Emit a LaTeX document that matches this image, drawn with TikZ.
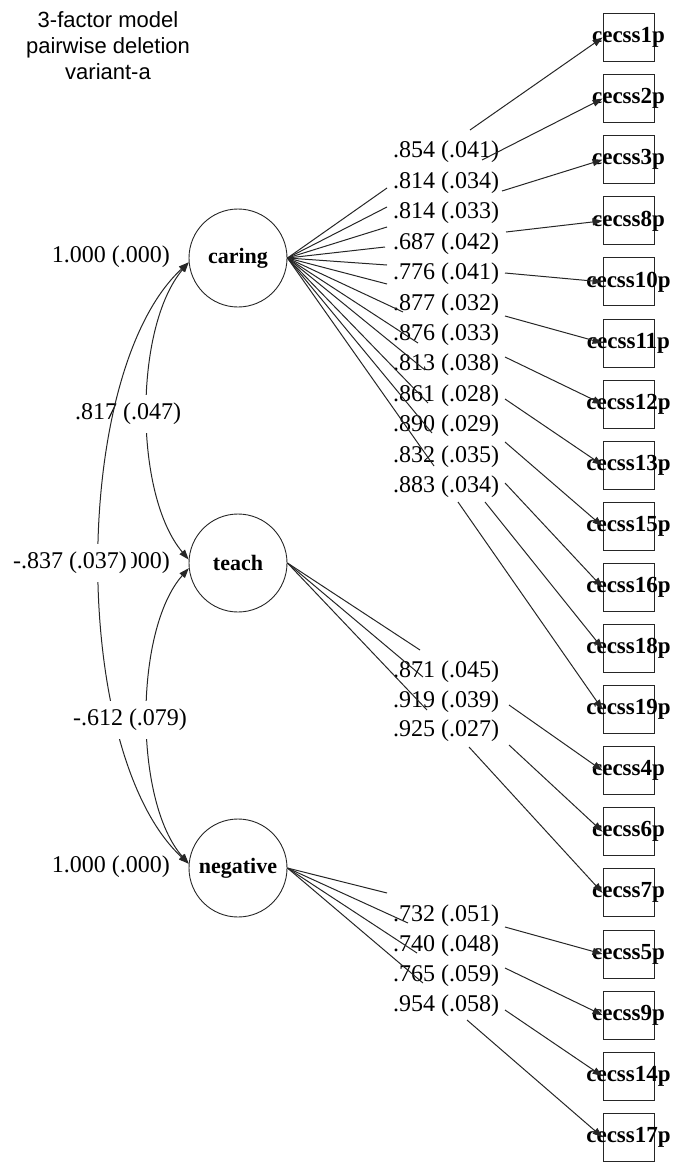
\documentclass[tikz,border=0pt]{standalone}
\usepackage{fontspec}
\setmainfont{Liberation Serif}
\newfontfamily\titlefont{Liberation Sans}
\usetikzlibrary{arrows.meta,calc}
\tikzset{
	latent/.style={draw=black!85, circle, minimum size=98pt, inner sep=0pt, line width=0.9pt,
			font=\fontsize{22}{24}\selectfont\bfseries},
	manifest/.style={draw=black!85, rectangle, minimum width=51pt, minimum height=48pt, inner sep=0pt, line width=0.9pt},
	itemname/.style={inner sep=0pt, font=\fontsize{23}{24}\selectfont\bfseries},
	est/.style={inner sep=0pt, font=\fontsize{24}{26}\selectfont},
	covest/.style={est, fill=white, inner xsep=4pt, inner ysep=8pt},
	link/.style={draw=black!85, line width=1pt},
	loadarrow/.style={link, -{Triangle[length=10pt,width=7pt]}},
	covarrow/.style={link, {Triangle[length=10pt,width=7pt]}-{Triangle[length=10pt,width=7pt]}}
}

\begin{document}
\begin{tikzpicture}[x=1pt,y=-1pt]
		\useasboundingbox (0,0) rectangle (677,1165);
		\node[font=\titlefont\fontsize{22}{26}\selectfont, align=center] (title) at (108,46)
		{3-factor model\\pairwise deletion\\variant-a};
		% factors
		\node[latent] (caring) at (238,258) {caring};
		\node[latent] (teach) at (238,563) {teach};
		\node[latent] (negative) at (238,868) {negative};
		% items
		\foreach \name [count=\i] in {1,2,3,8,10,11,12,13,15,16,18,19,4,6,7,5,9,14,17}
		\node[manifest, label={[itemname]center:cecss\name p}] (v\name) at (628.5,{37.5+61.1*(\i-1)}) {};
		% loadings
		\foreach \txt [count=\i] in {.854 (.041),.814 (.034),.814 (.033),.687 (.042),.776 (.041),.877 (.032),
				.876 (.033),.813 (.038),.861 (.028),.890 (.029),.832 (.035),.883 (.034)}
		\node[est] (lc\i) at (446,{121.55+30.45*\i}) {\txt};
		\foreach \txt [count=\i] in {.871 (.045),.919 (.039),.925 (.027)}
		\node[est] (lt\i) at (446,{642.5+29.5*\i}) {\txt};
		\foreach \txt [count=\i] in {.732 (.051),.740 (.048),.765 (.059),.954 (.058)}
		\node[est] (ln\i) at (446,{886+30*\i}) {\txt};
		\foreach \ax/\ay/\bx/\by/\t [count=\i] in {387/188/470/130/1,387/207/482/160/2,387/227/502/191/3,
				385/247/506/232/8,387/265/505/273/10,387/284/505/316/11,403/312/505/357/12,418/343/505/399/13,
				425/370/505/442/15,428/403/505/483/16,432/433/485/502/18,434/466/458/502/19}
			{
				\coordinate (ca\i) at (\ax,\ay);
				\coordinate (cb\i) at (\bx,\by);
				\draw[link] (caring.east) -- (ca\i);
				\draw[loadarrow] (cb\i) -- (v\t.west);
			}
		\foreach \ax/\ay/\bx/\by/\t [count=\i] in {420/650/509/705/4,423/677/509/745/6,427/710/469/747/7}
			{
				\coordinate (ta\i) at (\ax,\ay);
				\coordinate (tb\i) at (\bx,\by);
				\draw[link] (teach.east) -- (ta\i);
				\draw[loadarrow] (tb\i) -- (v\t.west);
			}
		\foreach \ax/\ay/\bx/\by/\t [count=\i] in {387/893/505/927/5,408/923/505/968/9,
				417/953/505/1010/14,423/983/467/1020/17}
			{
				\coordinate (na\i) at (\ax,\ay);
				\coordinate (nb\i) at (\bx,\by);
				\draw[link] (negative.east) -- (na\i);
				\draw[loadarrow] (nb\i) -- (v\t.west);
			}
		% variances
		\node[est, anchor=east] (varc) at (170,257) {1.000 (.000)};
		\node[est, anchor=east] (vart) at (170,563) {1.000 (.000)};
		\node[est, anchor=east] (varn) at (170,867) {1.000 (.000)};
		% covariances
		\draw[covarrow] (caring.185) .. controls +(-55,65) and +(-55,-65) .. (teach.176);
		\node[covest] (rct) at (128,414) {.817 (.047)};
		\draw[covarrow] (caring.185) .. controls +(-119,110) and +(-119,-110) .. (negative.175);
		\node[covest] (rcn) at (70,563) {-.837 (.037)};
		\draw[covarrow] (teach.186) .. controls +(-55,62) and +(-55,-62) .. (negative.175);
		\node[covest] (rtn) at (130,720) {-.612 (.079)};
	\end{tikzpicture}
\end{document}
